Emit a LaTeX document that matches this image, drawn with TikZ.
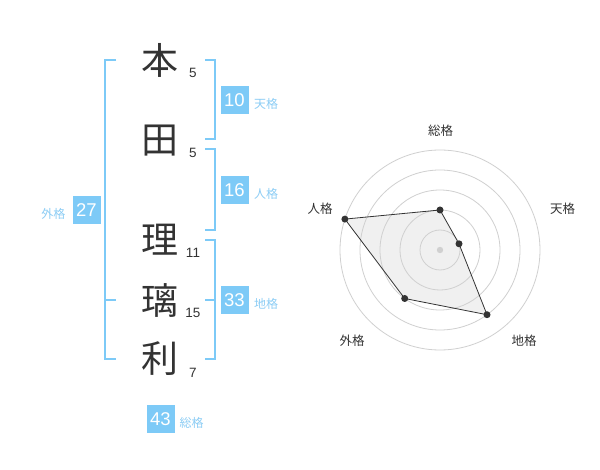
\documentclass[tikz,border=0pt]{standalone}
\usepackage{fontspec}
\setmainfont{Liberation Sans}
\newfontfamily\cjk{Noto Sans CJK JP}
\definecolor{boxblue}{RGB}{125,202,247}
\definecolor{lineblue}{RGB}{125,202,247}
\definecolor{labblue}{RGB}{140,205,245}
\definecolor{ink}{RGB}{51,51,51}
\definecolor{ring}{RGB}{208,208,208}
\definecolor{fillgray}{RGB}{240,240,240}
\begin{document}
\begin{tikzpicture}[x=1pt,y=-1pt,
  kanji/.style={font=\cjk\fontsize{37}{37}\selectfont, text=ink, inner sep=0pt},
  strokes/.style={font=\fontsize{13.5}{14}\selectfont, text=ink, inner sep=0pt},
  scorebox/.style={fill=boxblue, text=white, minimum width=28pt, minimum height=28pt, inner sep=0pt, font=\fontsize{18.5}{19}\selectfont},
  kaku/.style={font=\cjk\fontsize{12}{12}\selectfont, text=labblue, inner sep=0pt},
  brk/.style={draw=lineblue, line width=2pt},
  axislab/.style={font=\cjk\fontsize{12.5}{12.5}\selectfont, text=ink, inner sep=0pt},
  ringc/.style={draw=ring, line width=0.8pt},
  dot/.style={circle, fill=ink, inner sep=0pt, minimum size=7pt},
]
\useasboundingbox (0,0) rectangle (600,470);
\fill[white] (0,0) rectangle (600,470);

% kanji
\node[kanji] (k1) at (160,60) {本};
\node[kanji] (k2) at (160,141) {田};
\node[kanji] (k3) at (160,240) {理};
\node[kanji] (k4) at (160,300) {璃};
\node[kanji] (k5) at (160,359) {利};
% strokes
\node[strokes] (s1) at (193,73) {5};
\node[strokes] (s2) at (193,153) {5};
\node[strokes] (s3) at (193,253) {11};
\node[strokes] (s4) at (193,313) {15};
\node[strokes] (s5) at (193,373) {7};

% brackets
\draw[brk] (205,60) -- (215,60) -- (215,139) -- (205,139);
\draw[brk] (205,149) -- (215,149) -- (215,230) -- (205,230);
\draw[brk] (205,240) -- (215,240) -- (215,359) -- (205,359);
\draw[brk] (205,300) -- (215,300);
\draw[brk] (116,60) -- (105,60) -- (105,359) -- (116,359);
\draw[brk] (105,300) -- (116,300);

% score boxes
\node[scorebox] (ten) at (234.5,100) {10};
\node[kaku] (tenl) at (266,104) {天格};
\node[scorebox] (jin) at (234.5,190) {16};
\node[kaku] (jinl) at (266,194) {人格};
\node[scorebox] (chi) at (234.5,300) {33};
\node[kaku] (chil) at (266,304) {地格};
\node[scorebox] (gai) at (86.5,210) {27};
\node[kaku] (gail) at (53.5,214) {外格};
\node[scorebox] (sou) at (160.5,419) {43};
\node[kaku] (soul) at (191.5,423) {総格};

% radar
\coordinate (pS) at (440,210);
\coordinate (pT) at (459.0,243.8);
\coordinate (pC) at (487.0,314.7);
\coordinate (pG) at (404.7,298.5);
\coordinate (pJ) at (344.9,219.1);
\fill[fillgray] (pS) -- (pT) -- (pC) -- (pG) -- (pJ) -- cycle;
\foreach \r in {20,40,60,80,100} \draw[ringc] (440,250) circle (\r);
\fill[ring] (440,250) circle (3.2);
\draw[ink, line width=0.8pt] (pS) -- (pT) -- (pC) -- (pG) -- (pJ) -- cycle;
\foreach \p in {pS,pT,pC,pG,pJ} \node[dot] at (\p) {};
\node[axislab] (aS) at (440.5,131) {総格};
\node[axislab] (aT) at (562.5,208.5) {天格};
\node[axislab] (aC) at (524,341) {地格};
\node[axislab] (aG) at (352,341) {外格};
\node[axislab] (aJ) at (320,208.5) {人格};
\end{tikzpicture}
\end{document}
